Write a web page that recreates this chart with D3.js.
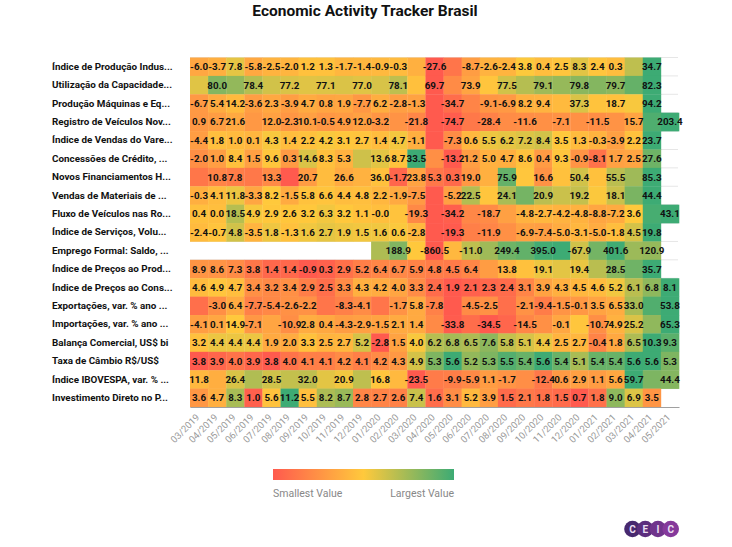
<!DOCTYPE html>
<html><head><meta charset="utf-8">
<script src="https://cdn.jsdelivr.net/npm/d3@7"></script>
<style>
html,body{margin:0;padding:0;background:#fff}
svg{display:block;font-family:Roboto,sans-serif}
.cell-label{font-size:9.8px;font-weight:700;fill:#111;text-anchor:middle}
</style></head><body>
<svg id="c" width="732" height="547"></svg>
<script>
const title = "Economic Activity Tracker Brasil";
const months = ["03/2019","04/2019","05/2019","06/2019","07/2019","08/2019","09/2019","10/2019","11/2019","12/2019","01/2020","02/2020","03/2020","04/2020","05/2020","06/2020","07/2020","08/2020","09/2020","10/2020","11/2020","12/2020","01/2021","02/2021","03/2021","04/2021","05/2021"];
const indicators = ["Índice de Produção Indus...","Utilização da Capacidade...","Produção Máquinas e Eq...","Registro de Veículos Nov...","Índice de Vendas do Vare...","Concessões de Crédito, ...","Novos Financiamentos H...","Vendas de Materiais de ...","Fluxo de Veículos nas Ro...","Índice de Serviços, Volu...","Emprego Formal: Saldo, ...","Índice de Preços ao Prod...","Índice de Preços ao Cons...","Exportações, var. % ano ...","Importações, var. % ano ...","Balança Comercial, US$ bi","Taxa de Câmbio R$/US$","Índice IBOVESPA, var. % ...","Investimento Direto no P..."];
// values per indicator, null = no data
const r01 = [-6.0,-3.7,7.8,-5.8,-2.5,-2.0,1.2,1.3,-1.7,-1.4,-0.9,-0.3,-3.5,-27.6,-20,-8.7,-2.6,-2.4,3.8,0.4,2.5,8.3,2.4,0.3,14,34.7,null];
const r02 = [77.0,80.0,79.5,78.4,77.5,77.2,77.0,77.1,77.2,77.0,77.3,78.1,75.5,69.7,72.5,73.9,75.8,77.5,78.4,79.1,79.4,79.8,80.0,79.7,81.0,82.3,null];
const r03 = [-6.7,5.4,14.2,-3.6,2.3,-3.9,4.7,0.8,1.9,-7.7,6.2,-2.8,-1.3,-47,-34.7,-20,-9.1,-6.9,8.2,9.4,14,37.3,20,18.7,26,94.2,null];
const r04 = [0.9,6.7,21.6,0,12.0,-2.3,10.1,-0.5,4.9,12.0,-3.2,-6,-21.8,-78,-74.7,-40,-28.4,-15,-11.6,-10,-7.1,-9,-11.5,-6,15.7,190,203.4];
const r05 = [-4.4,1.8,1.0,0.1,4.3,1.4,2.2,4.2,3.1,2.7,1.4,4.7,-1.1,-16.5,-7.3,0.6,5.5,6.2,7.2,8.4,3.5,1.3,-0.3,-3.9,2.2,23.7,null];
const r06 = [-2.0,1.0,8.4,1.5,9.6,0.3,14.6,8.3,5.3,16,13.6,8.7,33.5,-2,-13.2,1.2,5.0,4.7,8.6,0.4,9.3,-0.9,-8.1,1.7,2.5,27.6,null];
const r07 = [5,10.8,7.8,6,13.3,-6.5,20.7,34,26.6,30,36.0,-1.7,23.8,5.3,0.3,19.0,29,75.9,38,16.6,36,50.4,36,55.5,62,85.3,null];
const r08 = [-0.3,4.1,11.8,-3.3,8.2,-1.5,5.8,6.6,4.4,4.8,2.2,-1.9,-7.5,-28,-5.2,22.5,7,24.1,34,20.9,18,19.2,9,18.1,33,44.4,null];
const r09 = [0.4,0.0,18.5,4.9,2.9,2.6,3.2,6.3,3.2,1.1,-0.0,1.5,-19.3,-36,-34.2,-20,-18.7,-11,-4.8,-2.7,-4.2,-4.8,-8.8,-7.2,3.6,41,43.1];
const r10 = [-2.4,-0.7,4.8,-3.5,1.8,-1.3,1.6,2.7,1.9,1.5,1.6,0.6,-2.8,-19.5,-19.3,-13,-11.9,-10,-6.9,-7.4,-5.0,-3.1,-5.0,-1.8,4.5,19.8,null];
const r11 = [null,null,null,null,null,null,null,null,null,null,40,188.9,-230,-860.5,-320,-11.0,90,249.4,290,395.0,410,-67.9,230,401.6,100,120.9,null];
const r12 = [8.9,8.6,7.3,3.8,1.4,1.4,-0.9,0.3,2.9,5.2,6.4,6.7,5.9,4.8,4.5,6.4,10,13.8,16,19.1,20,19.4,24,28.5,31,35.7,null];
const r13 = [4.6,4.9,4.7,3.4,3.2,3.4,2.9,2.5,3.3,4.3,4.2,4.0,3.3,2.4,1.9,2.1,2.3,2.4,3.1,3.9,4.3,4.5,4.6,5.2,6.1,6.8,8.1];
const r14 = [-14,-3.0,6.4,-7.7,-5.4,-2.6,-2.2,-12,-8.3,-4.1,-12,-1.7,5.8,-7.8,-21,-4.5,-2.5,-14,-2.1,-9.4,-1.5,-0.1,3.5,6.5,33.0,50,53.8];
const r15 = [-4.1,0.1,14.9,-7.1,-1,-10.9,2.8,0.4,-4.3,-2.9,-1.5,2.1,1.4,-13,-33.8,-26,-34.5,-29,-14.5,-10,-0.1,14,-10.7,4.9,25.2,44,65.3];
const r16 = [3.2,4.4,4.4,4.4,1.9,2.0,3.3,2.5,2.7,5.2,-2.8,1.5,4.0,6.2,6.8,6.5,7.6,5.8,5.1,4.4,2.5,2.7,-0.4,1.8,6.5,10.3,9.3];
const r17 = [3.8,3.9,4.0,3.9,3.8,4.0,4.1,4.1,4.2,4.1,4.2,4.3,4.9,5.3,5.6,5.2,5.3,5.5,5.4,5.6,5.4,5.1,5.4,5.4,5.6,5.6,5.3];
const r18 = [11.8,8,26.4,35,28.5,31,32.0,24,20.9,32,16.8,12,-23.5,-11,-9.9,-5.9,1.1,-1.7,-4,-12.4,0.6,2.9,1.1,5.6,59.7,46,44.4];
const r19 = [3.6,4.7,8.3,1.0,5.6,11.2,5.5,8.2,8.7,2.8,2.7,2.6,7.4,1.6,3.1,5.2,3.9,1.5,2.1,1.8,1.5,0.7,1.8,9.0,6.9,3.5,null];
const rows = [r01,r02,r03,r04,r05,r06,r07,r08,r09,r10,r11,r12,r13,r14,r15,r16,r17,r18,r19];
// month indexes whose value label is not printed in the reference (collision-hidden)
const hiddenLabels = [[12,14,24],[0,2,4,6,8,10,12,14,16,18,20,22,24],[13,15,20,22,24],[3,11,13,15,17,19,21,23,25],[13],[9,13],[0,3,5,7,9,16,18,20,22,24],[13,16,18,20,22,24],[11,13,15,17,25],[13,15,17],[10,12,14,16,18,20,22,24],[16,18,20,22,24],[],[0,7,10,14,17,25],[4,13,15,17,19,21,25],[],[],[1,3,5,7,9,11,13,18,25],[]];
const legendLabels = ["Smallest Value","Largest Value"];
const logoLetters = ["C","E","I","C"];
const heatColors = ["#ff5a4e","#ffc93c","#3dab74"];

const svg = d3.select("#c");
const plot = {l:190,r:679,t:57.5,b:407};
const x = d3.scaleBand().domain(months).range([plot.l,plot.r]);
const y = d3.scaleBand().domain(indicators).range([plot.t,plot.b]);

svg.append("text").attr("x",365).attr("y",15.5).attr("text-anchor","middle")
  .attr("font-size",15.5).attr("font-weight",700).attr("fill","#111").text(title);

// gridlines at row boundaries
svg.append("g").selectAll("line").data(indicators).join("line")
  .attr("x1",plot.l).attr("x2",plot.r-1).attr("y1",d=>y(d)).attr("y2",d=>y(d))
  .attr("stroke","#e6e6e6");

// cells, per-row colour scale
const g = svg.append("g");
rows.forEach((vals,ri)=>{
  const [mn,mx] = d3.extent(vals);
  const col = d3.scaleLinear().domain([mn,(mn+mx)/2,mx]).range(heatColors);
  const name = indicators[ri];
  const data = vals.map((v,i)=>({v,i})).filter(d=>d.v!==null);
  g.selectAll(null).data(data).join("rect")
    .attr("x",d=>x(months[d.i])).attr("y",y(name))
    .attr("width",x.bandwidth()+0.3).attr("height",y.bandwidth()+0.3)
    .attr("fill",d=>col(d.v));
});
const gl = svg.append("g");
rows.forEach((vals,ri)=>{
  const name = indicators[ri];
  const data = vals.map((v,i)=>({v,i})).filter(d=>d.v!==null && !hiddenLabels[ri].includes(d.i));
  gl.selectAll(null).data(data).join("text").attr("class","cell-label")
    .attr("x",d=>x(months[d.i])+x.bandwidth()/2)
    .attr("y",y(name)+y.bandwidth()/2+3.6)
    .text(d=>(Object.is(d.v,-0)?"-0.0":d.v.toFixed(1)));
});

// category axis
const yAxis = d3.axisLeft(y).tickSize(0).tickPadding(0);
const ya = svg.append("g").attr("transform",`translate(${plot.l},0)`).call(yAxis);
ya.select(".domain").remove();
ya.selectAll("text").attr("x",52-plot.l).attr("text-anchor","start")
  .attr("font-family","Roboto,sans-serif").attr("font-size",9.85).attr("font-weight",700).attr("fill","#111");

// month axis
const xAxis = d3.axisBottom(x).tickSize(0);
const xa = svg.append("g").attr("transform",`translate(0,${plot.b})`).call(xAxis);
xa.select(".domain").attr("stroke","#a0a0a0").attr("stroke-width",1.2);
xa.selectAll("text").attr("font-family","Roboto,sans-serif").attr("font-size",9.5).attr("fill","#999")
  .attr("text-anchor","end").attr("dy",0).attr("y",0)
  .attr("transform","translate(1,11) rotate(-45)");

// legend
const defs = svg.append("defs");
const lg = defs.append("linearGradient").attr("id","lg");
heatColors.forEach((c,i)=>lg.append("stop").attr("offset",i/(heatColors.length-1)).attr("stop-color",c));
const lx = d3.scaleLinear().domain([0,1]).range([273,454]);
svg.append("rect").attr("x",lx(0)).attr("y",469).attr("width",lx(1)-lx(0)).attr("height",11).attr("fill","url(#lg)");
svg.append("text").attr("x",lx(0)).attr("y",497).attr("font-size",10.5).attr("fill","#888").text(legendLabels[0]);
svg.append("text").attr("x",lx(1)).attr("y",497).attr("text-anchor","end").attr("font-size",10.5).attr("fill","#888").text(legendLabels[1]);

// logo
const logoX = d3.scalePoint().domain(d3.range(logoLetters.length)).range([632.5,670.7]);
const logoC = d3.scaleLinear().domain([0,3]).range(["#47296f","#85399b"]);
const lo = svg.append("g");
lo.selectAll("circle").data(logoLetters).join("circle")
  .attr("cx",(d,i)=>logoX(i)).attr("cy",529).attr("r",8.3).attr("fill",(d,i)=>logoC(i));
lo.selectAll("text").data(logoLetters).join("text")
  .attr("x",(d,i)=>logoX(i)).attr("y",532.7).attr("text-anchor","middle")
  .attr("font-size",10).attr("font-weight",700).attr("fill","#eadff2").text(d=>d);
</script>
</body></html>
